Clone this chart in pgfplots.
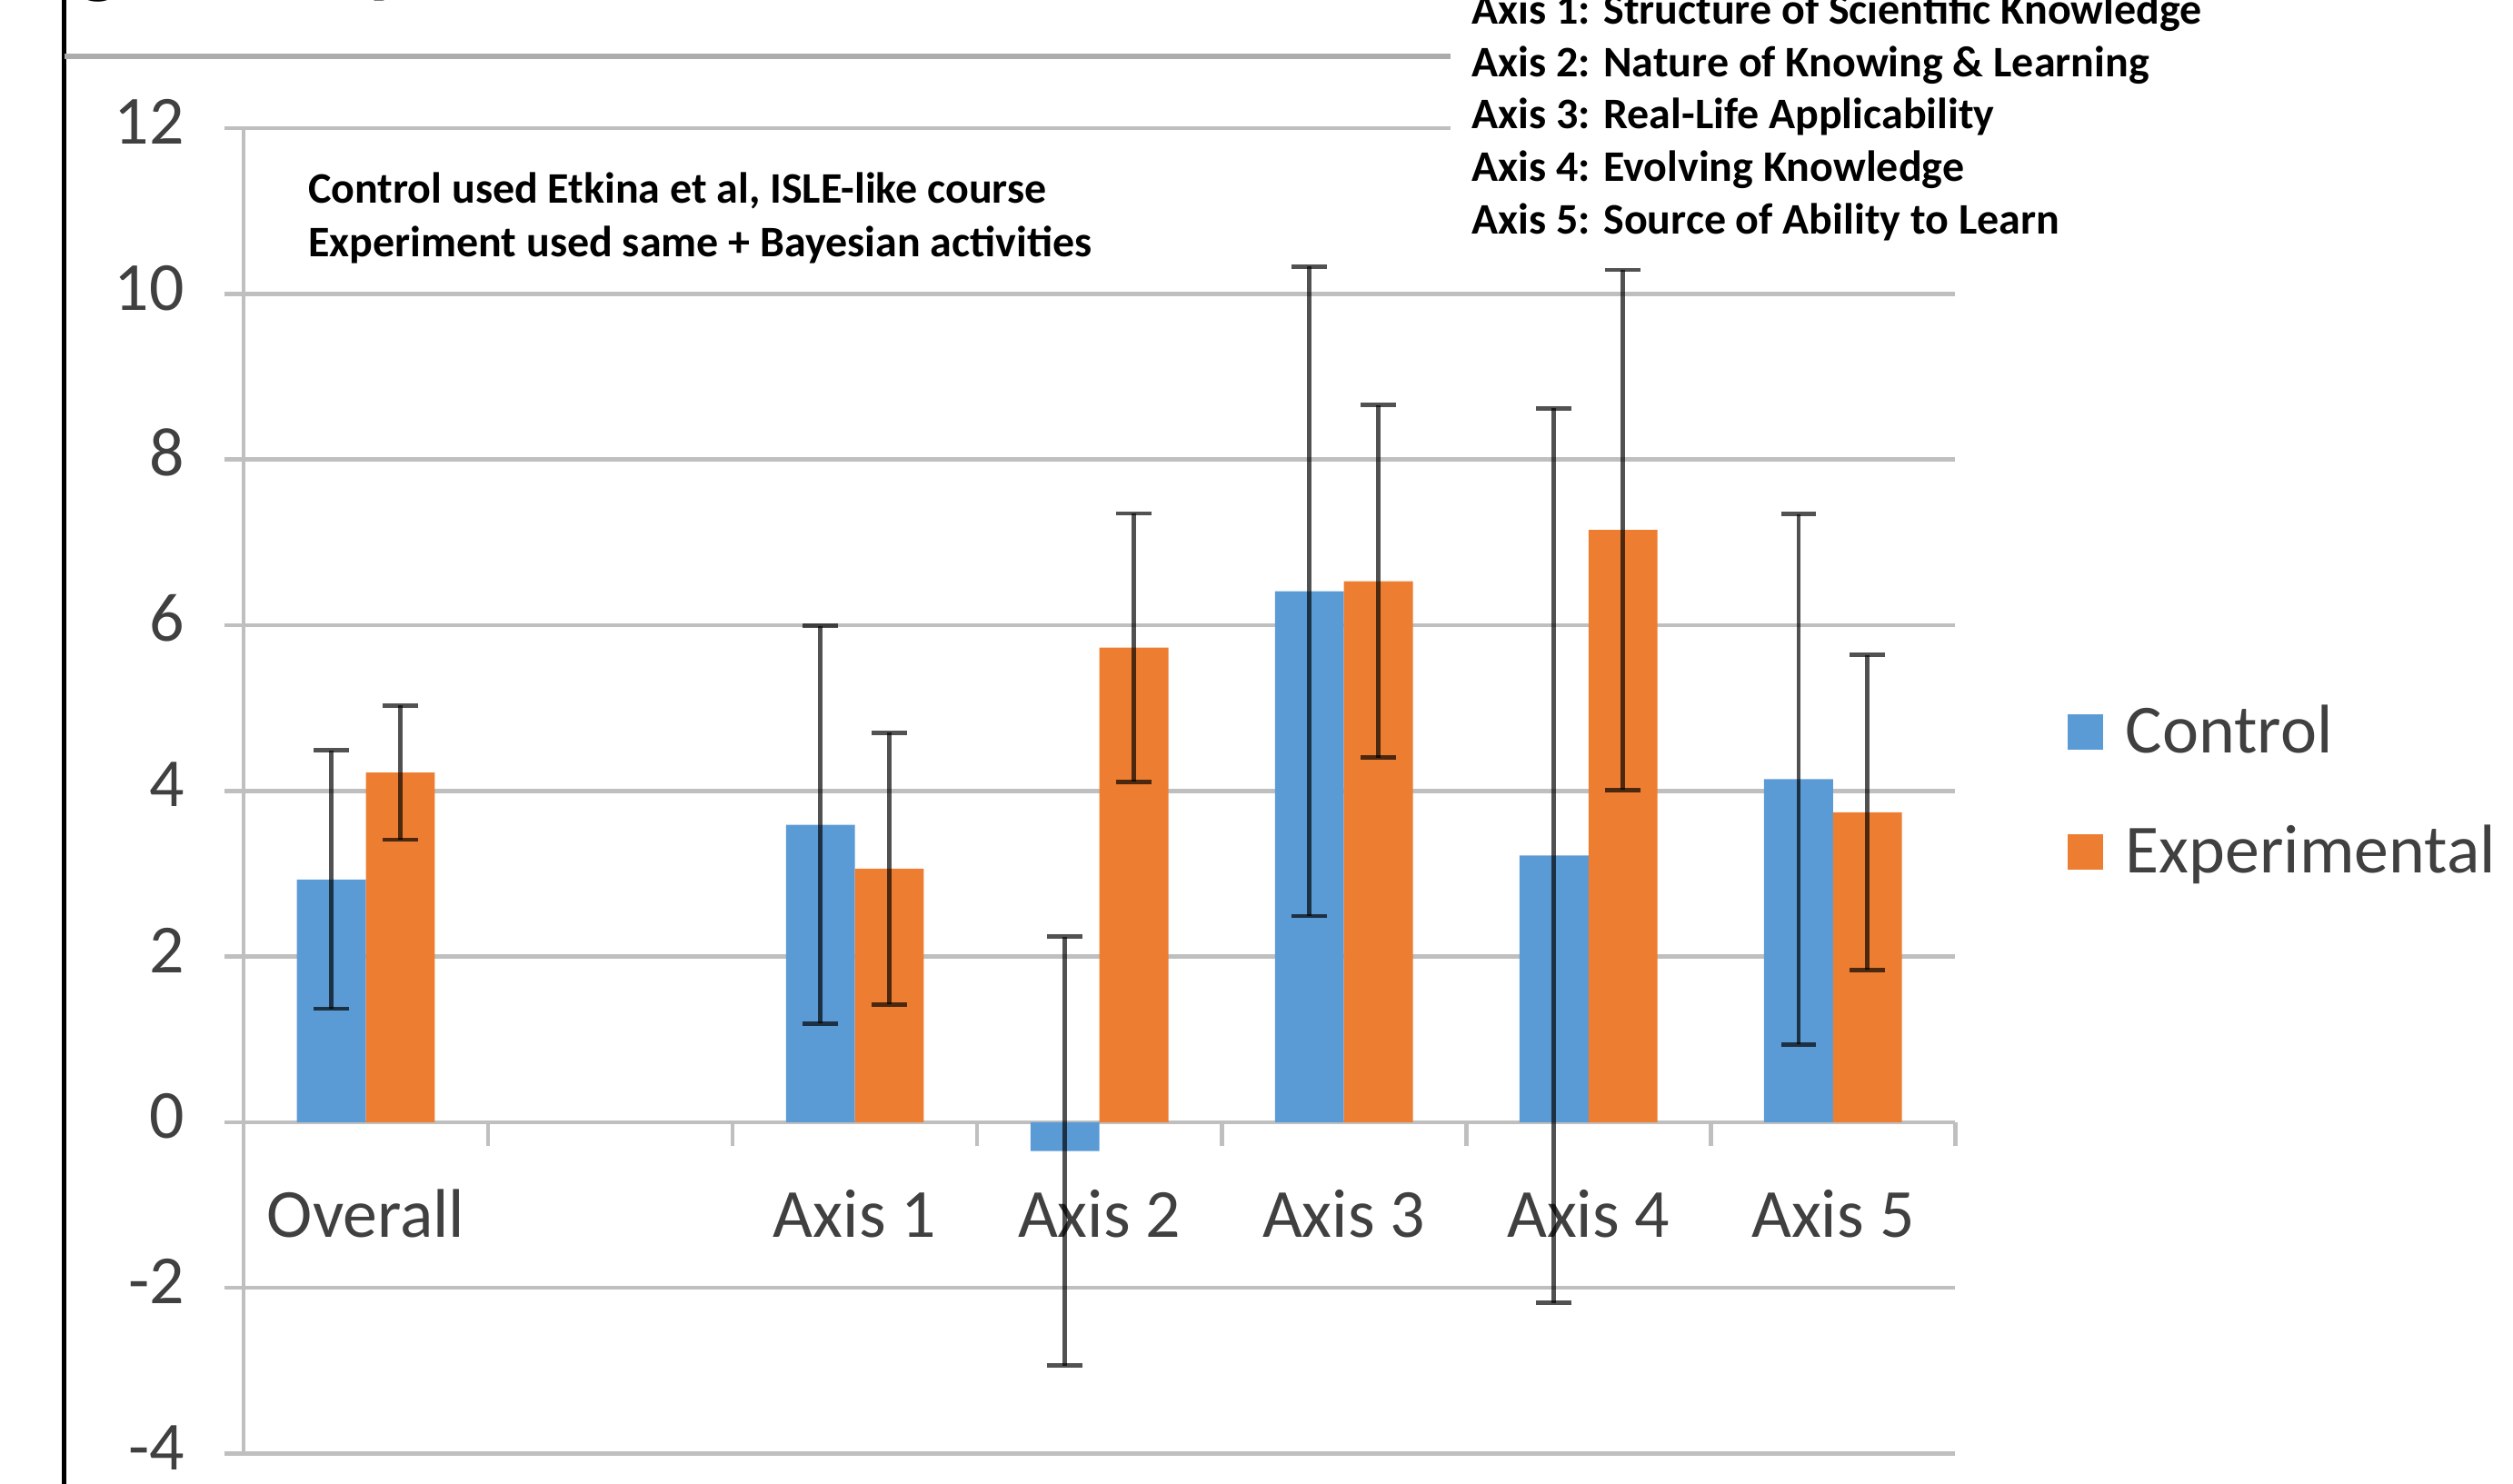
\documentclass[border=0pt]{standalone}
\usepackage{fontspec}
\setmainfont{Carlito}
\usepackage{pgfplots}
\pgfplotsset{compat=1.18}
\definecolor{cblue}{HTML}{5B9BD5}
\definecolor{corange}{HTML}{ED7D31}
\definecolor{gridc}{HTML}{BFBFBF}
\definecolor{labc}{HTML}{404040}
\newcommand{\tickfont}{\fontsize{21.5}{25}\selectfont}
\newcommand{\notefont}{\fontsize{13.6}{16}\selectfont\bfseries}
\begin{document}
\begin{tikzpicture}
\useasboundingbox (0pt,0pt) rectangle (784pt,-463pt);
\clip (0pt,0pt) rectangle (784pt,-463pt);
\begin{axis}[
  at={(76pt,-453.5pt)}, anchor=south west,
  scale only axis, width=534pt, height=413.5pt,
  xmin=-0.5, xmax=6.5, ymin=-4, ymax=12,
  ybar=0pt, bar width=21.5pt,
  axis x line*=middle, axis y line*=left,
  axis line style={-, draw=gridc, line width=1.3pt},
  xtick={0,2,3,4,5,6},
  xticklabels={Overall, Axis 1, Axis 2, Axis 3, Axis 4, Axis 5},
  minor xtick={-0.5,0.5,...,6.5},
  ytick={-4,-2,...,12},
  ymajorgrids, grid style={draw=gridc, line width=1.3pt},
  tick align=outside,
  major tick length=6pt, minor tick length=7.5pt,
  xtick style={draw=none},
  minor x tick style={draw=gridc, line width=1.3pt},
  ytick style={draw=gridc, line width=1.3pt},
  typeset ticklabels with strut,
  xticklabel style={font=\tickfont, text=labc, yshift=-9pt},
  yticklabel style={font=\tickfont, text=labc, xshift=-9pt},
  /pgf/number format/assume math mode=true,
  error bars/error bar style={draw=black, opacity=0.68, line width=1.35pt},
  error bars/error mark options={rotate=90, mark size=5.5pt, draw=black, opacity=0.68, line width=1.35pt},
  legend style={at={(1.0655,0.4994)}, anchor=west, draw=none, fill=none,
    inner sep=0pt, font=\tickfont, text=labc, row sep=17pt,
    /tikz/every odd column/.append style={column sep=5pt}},
  legend cell align=left,
  legend image code/.code={\fill[#1] (0pt,-5.5pt) rectangle (11pt,5.5pt);},
]
\addplot[fill=cblue, draw=none, error bars/.cd, y dir=both, y explicit]
  coordinates {(0,2.93) +- (0,1.56) (2,3.59) +- (0,2.40) (3,-0.35) +- (0,2.59)
               (4,6.41) +- (0,3.92) (5,3.22) +- (0,5.40) (6,4.14) +- (0,3.20)};
\addplot[fill=corange, draw=none, error bars/.cd, y dir=both, y explicit]
  coordinates {(0,4.22) +- (0,0.81) (2,3.06) +- (0,1.64) (3,5.73) +- (0,1.62)
               (4,6.53) +- (0,2.13) (5,7.15) +- (0,3.14) (6,3.74) +- (0,1.90)};
\legend{Control, Experimental}
\end{axis}
\begin{scope}[x=0.5pt,y=-0.5pt]
% frame pieces of the cropped slide
\draw[black, line width=1.6pt] (40,-5) -- (40,931);
\draw[draw=gray!65, line width=1.6pt] (40,35) -- (905,35);
\node[anchor=base west, inner sep=0pt, font=\fontsize{28}{30}\selectfont\bfseries] at (48,-8) {g};
\node[anchor=base west, inner sep=0pt, font=\fontsize{28}{30}\selectfont\bfseries] at (228,-8) {y};
% white box with the axis descriptions
\fill[white] (905,-5) rectangle (1575,158);
\foreach \t [count=\i from 0] in {Axis 1: Structure of Scientific Knowledge,
  Axis 2: Nature of Knowing \& Learning, Axis 3: Real-Life Applicability,
  Axis 4: Evolving Knowledge, Axis 5: Source of Ability to Learn}
  \node[anchor=base west, inner sep=0pt, font=\notefont] at (918,15+32.7*\i) {\t};
\node[anchor=base west, inner sep=0pt, font=\notefont] at (192,127) {Control used Etkina et al, ISLE-like course};
\node[anchor=base west, inner sep=0pt, font=\notefont] at (192,160) {Experiment used same + Bayesian activities};
\end{scope}
\end{tikzpicture}
\end{document}
